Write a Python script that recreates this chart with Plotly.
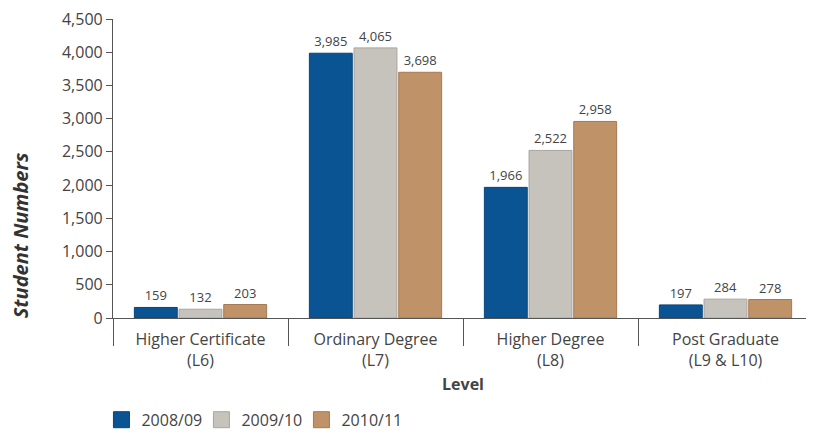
import plotly.graph_objects as go

categories = ["Higher Certificate<br>(L6)", "Ordinary Degree<br>(L7)", "Higher Degree<br>(L8)", "Post Graduate<br>(L9 & L10)"]
series_names = ["2008/09", "2009/10", "2010/11"]
v_2008 = [159, 3985, 1966, 197]
v_2009 = [132, 4065, 2522, 284]
v_2010 = [203, 3698, 2958, 278]
y_ticks = [0, 500, 1000, 1500, 2000, 2500, 3000, 3500, 4000, 4500]

colors = ["#0b5494", "#c6c2bc", "#bf9268"]
edges = ["#08447a", "#a9a59f", "#a67a52"]

fig = go.Figure()
for name, vals, c, e in zip(series_names, [v_2008, v_2009, v_2010], colors, edges):
    fig.add_trace(go.Bar(
        x=categories, y=vals, name=name, showlegend=False,
        marker=dict(color=c, line=dict(color=e, width=1)),
        text=[f"{v:,}" for v in vals], textposition="outside",
        textfont=dict(size=13, color="#444444", family="Open Sans"),
        cliponaxis=False,
    ))

# legend entries with large square swatches
for name, c, e in zip(series_names, colors, edges):
    fig.add_trace(go.Scatter(
        x=[categories[0]], y=[None], name=name, mode="markers",
        marker=dict(symbol="square", size=22, color=c, line=dict(color=e, width=1)),
        hoverinfo="skip",
    ))

# invisible trace on the divider axis
fig.add_trace(go.Scatter(x=categories, y=[None]*4, xaxis="x2", showlegend=False,
                         hoverinfo="skip", mode="markers"))

fig.update_layout(
    width=806, height=429,
    margin=dict(l=105, r=1, t=11, b=118),
    paper_bgcolor="white", plot_bgcolor="white",
    font=dict(family="Open Sans", color="#444444", size=15),
    barmode="group", bargap=0.234, bargroupgap=0.04,
    showlegend=True,
    legend=dict(orientation="h", x=-0.0165, xanchor="left", y=-0.336, yanchor="middle",
                font=dict(size=16, color="#444444"), traceorder="normal",
                itemsizing="trace", entrywidth=55, entrywidthmode="pixels"),
    xaxis=dict(
        type="category", categoryorder="array", categoryarray=categories,
        range=[-0.5, 3.5], automargin=False,
        showline=True, linecolor="#555555", linewidth=1.2,
        ticks="", showgrid=False,
        ticklabelstandoff=7,
        tickfont=dict(size=16, color="#444444"),
        title=dict(text="<b>Level</b>", font=dict(size=16, color="#444444"), standoff=8),
    ),
    xaxis2=dict(
        type="category", categoryorder="array", categoryarray=categories,
        range=[-0.5, 3.5], matches="x", overlaying="x", anchor="y", automargin=False,
        showticklabels=False, ticks="outside", tickson="boundaries",
        ticklen=27, tickcolor="#555555", tickwidth=1.2, showgrid=False, showline=False,
    ),
    yaxis=dict(
        range=[0, 4500], tickvals=y_ticks, tickformat=",", automargin=False,
        ticklabeloverflow="allow",
        showline=True, linecolor="#555555", linewidth=1.2,
        ticks="outside", ticklen=6, tickcolor="#555555",
        showgrid=False, zeroline=False,
        tickfont=dict(size=16, color="#444444"),
    ),
    annotations=[dict(
        text="<b><i>Student Numbers</i></b>", textangle=-90,
        xref="paper", yref="paper", x=-0.1329, y=0.2767, xanchor="center", yanchor="middle",
        showarrow=False, font=dict(size=20, color="#333333"),
    )],
)

fig.write_html("out.html")
